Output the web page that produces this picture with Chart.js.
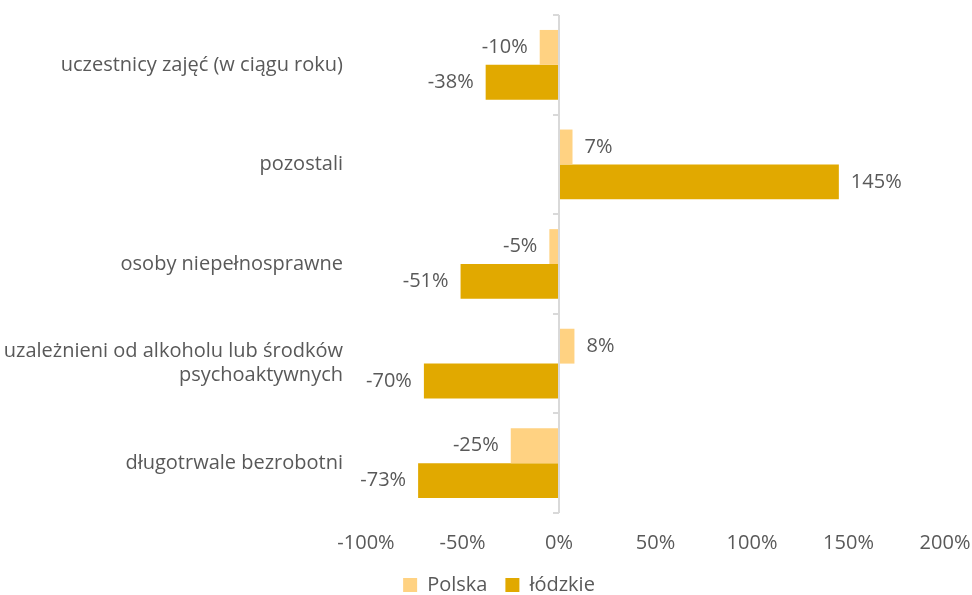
<!DOCTYPE html>
<html>
<head>
<meta charset="utf-8">
<script src="https://cdn.jsdelivr.net/npm/chart.js@4/dist/chart.umd.min.js"></script>
<style>
    html, body { margin: 0; padding: 0; background: #ffffff; }
    #wrap { width: 972px; height: 595px; }
</style>
</head>
<body>
<div id="wrap"><canvas id="chartGroups" width="972" height="595"></canvas></div>
<script>
const categories = [
    'uczestnicy zajęć (w ciągu roku)',
    'pozostali',
    'osoby niepełnosprawne',
    ['uzależnieni od alkoholu lub środków', 'psychoaktywnych'],
    'długotrwale bezrobotni'
];
const polskaValues = [-10, 7, -5, 8, -25];
const lodzkieValues = [-38, 145, -51, -70, -73];
const seriesNames = ['Polska', 'łódzkie'];
const tickMin = -100;
const tickMax = 200;
const tickStep = 50;

const textColor = '#595959';
const fontFamily = '"Open Sans", Lato, sans-serif';
const fontSize = 20;

// value labels at the end of each bar
const barLabels = {
    id: 'barLabels',
    afterDatasetsDraw(chart) {
        const ctx = chart.ctx;
        ctx.save();
        ctx.font = fontSize + 'px ' + fontFamily;
        ctx.fillStyle = textColor;
        ctx.textBaseline = 'middle';
        chart.data.datasets.forEach((ds, i) => {
            const meta = chart.getDatasetMeta(i);
            meta.data.forEach((bar, j) => {
                const v = ds.data[j];
                if (v >= 0) {
                    ctx.textAlign = 'left';
                    ctx.fillText(v + '%', bar.x + 12, bar.y);
                } else {
                    ctx.textAlign = 'right';
                    ctx.fillText(v + '%', bar.x - 12, bar.y);
                }
            });
        });
        ctx.restore();
    }
};

// legend in the source sits a bit right of the canvas centre
const legendShift = {
    id: 'legendShift',
    afterLayout(chart) {
        if (chart.legend) {
            chart.legend.left += 13;
            chart.legend.right += 13;
        }
    }
};

new Chart(document.getElementById('chartGroups'), {
    type: 'bar',
    data: {
        labels: categories,
        datasets: [
            {
                label: seriesNames[0],
                data: polskaValues,
                backgroundColor: '#FFD282',
                categoryPercentage: 0.7,
                barPercentage: 1.0
            },
            {
                label: seriesNames[1],
                data: lodzkieValues,
                backgroundColor: '#E1A900',
                categoryPercentage: 0.7,
                barPercentage: 1.0
            }
        ]
    },
    options: {
        indexAxis: 'y',
        responsive: false,
        animation: false,
        layout: { padding: { top: 15, right: 0, left: 0, bottom: -10 } },
        plugins: {
            legend: {
                position: 'bottom',
                labels: {
                    color: textColor,
                    font: { family: fontFamily, size: fontSize },
                    boxWidth: 14,
                    boxHeight: 14,
                    padding: 18,
                    useBorderRadius: false
                }
            },
            tooltip: { enabled: false }
        },
        scales: {
            x: {
                min: tickMin,
                max: tickMax,
                afterFit: scale => {
                    scale.paddingLeft = 0;
                    scale.paddingRight = 27;
                    scale.height = 44;
                },
                grid: {
                    drawTicks: false,
                    color: ctx => ctx.tick && ctx.tick.value === 0 ? '#D9D9D9' : 'rgba(0,0,0,0)',
                    lineWidth: 2
                },
                border: { display: false },
                ticks: {
                    stepSize: tickStep,
                    padding: 18,
                    color: textColor,
                    font: { family: fontFamily, size: fontSize },
                    callback: v => v + '%'
                }
            },
            y: {
                grid: { display: false },
                border: { display: false },
                afterFit: scale => {
                    scale.width = 366;
                    scale.paddingTop = 0;
                    scale.paddingBottom = 0;
                },
                ticks: {
                    padding: 15,
                    color: textColor,
                    font: { family: fontFamily, size: fontSize }
                }
            },
            yZero: {
                type: 'category',
                axis: 'y',
                position: { x: 0 },
                offset: true,
                afterFit: scale => {
                    scale.width = 0;
                    scale.paddingTop = 0;
                    scale.paddingBottom = 0;
                },
                grid: { drawOnChartArea: false, offset: true, tickLength: 6, color: '#D9D9D9', lineWidth: 2 },
                border: { display: false },
                ticks: { display: false }
            }
        }
    },
    plugins: [barLabels, legendShift]
});
</script>
</body>
</html>
